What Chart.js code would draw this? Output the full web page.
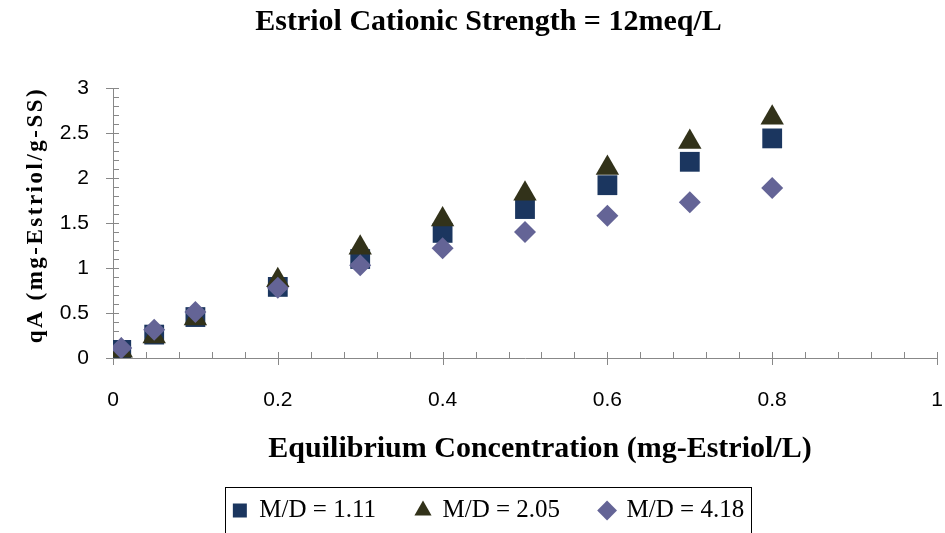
<!DOCTYPE html>
<html>
<head>
<meta charset="utf-8">
<script src="https://cdn.jsdelivr.net/npm/chart.js@4.4.0/dist/chart.umd.min.js"></script>
<style>
  html, body { margin: 0; padding: 0; background: #fff; }
</style>
</head>
<body>
<canvas id="chart" width="945" height="533"></canvas>
<script>
// text
const chartTitle = 'Estriol Cationic Strength = 12meq/L';
const xTitle = 'Equilibrium Concentration (mg-Estriol/L)';
const yTitle = 'qA (mg-Estriol/g-SS)';
const seriesNames = ['M/D = 1.11', 'M/D = 2.05', 'M/D = 4.18'];

// data
const xValues = [0.01, 0.05, 0.1, 0.2, 0.3, 0.4, 0.5, 0.6, 0.7, 0.8];
const md111 = [0.09, 0.26, 0.455, 0.79, 1.10, 1.39, 1.655, 1.92, 2.18, 2.44];
const md205 = [0.08, 0.24, 0.44, 0.865, 1.225, 1.54, 1.825, 2.11, 2.40, 2.67];
const md418 = [0.11, 0.315, 0.51, 0.78, 1.03, 1.22, 1.40, 1.58, 1.73, 1.89];

const xTicks = [0, 0.2, 0.4, 0.6, 0.8, 1];
const yTicks = [0, 0.5, 1, 1.5, 2, 2.5, 3];
const xMinorPerMajor = 5;
const yMinorPerMajor = 5;

const axisColor = '#888888';
const serif = "'Liberation Serif', 'Times New Roman', serif";
const sans = "'Liberation Sans', Arial, sans-serif";

const toPoints = ys => xValues.map((x, i) => ({ x, y: ys[i] }));

// minor + major tick marks, excel style (minor inside, major crossing)
const axisTicks = {
    id: 'axisTicks',
    beforeDatasetsDraw(chart) {
        const { ctx, chartArea: a, scales: { x, y } } = chart;
        ctx.save();
        ctx.strokeStyle = axisColor;
        ctx.lineWidth = 1;
        ctx.beginPath();
        const xStep = (xTicks[1] - xTicks[0]) / xMinorPerMajor;
        const nx = Math.round((xTicks[xTicks.length - 1] - xTicks[0]) / xStep);
        for (let i = 0; i <= nx; i++) {
            const px = Math.round(x.getPixelForValue(xTicks[0] + i * xStep)) + 0.5;
            const major = i % xMinorPerMajor === 0;
            ctx.moveTo(px, a.bottom - 6);
            ctx.lineTo(px, a.bottom + (major ? 7 : 0));
        }
        const yStep = (yTicks[1] - yTicks[0]) / yMinorPerMajor;
        const ny = Math.round((yTicks[yTicks.length - 1] - yTicks[0]) / yStep);
        for (let i = 0; i <= ny; i++) {
            const py = Math.round(y.getPixelForValue(yTicks[0] + i * yStep)) + 0.5;
            const major = i % yMinorPerMajor === 0;
            ctx.moveTo(a.left - (major ? 7 : 0), py);
            ctx.lineTo(a.left + 6, py);
        }
        ctx.stroke();
        ctx.restore();
    }
};

// axis titles + legend frame
const extras = {
    id: 'extras',
    afterDraw(chart) {
        const { ctx } = chart;
        ctx.save();
        ctx.fillStyle = '#000';

        ctx.font = 'bold 30px ' + serif;
        ctx.textAlign = 'center';
        ctx.textBaseline = 'alphabetic';
        ctx.fillText(xTitle, 540, 457);

        ctx.translate(42, 215);
        ctx.rotate(-Math.PI / 2);
        ctx.font = 'bold 23px ' + serif;
        ctx.letterSpacing = '2.5px';
        ctx.fillText(yTitle, 0, 0);
        ctx.restore();

        const boxes = chart.legend.legendHitBoxes;
        if (boxes && boxes.length) {
            const first = boxes[0], last = boxes[boxes.length - 1];
            const left = Math.round(first.left - 8);
            const right = Math.round(last.left + last.width + 7);
            const top = Math.round(first.top + first.height / 2 - 24);
            ctx.save();
            ctx.strokeStyle = '#000';
            ctx.lineWidth = 1;
            ctx.strokeRect(left + 0.5, top + 0.5, right - left, 80);
            ctx.restore();
        }
    }
};

// invisible tick marks push the labels away from the axes
const hiddenGrid = len => ({
    display: true,
    drawOnChartArea: false,
    drawTicks: true,
    tickLength: len,
    tickColor: 'rgba(0,0,0,0)'
});

new Chart(document.getElementById('chart').getContext('2d'), {
    type: 'scatter',
    data: {
        datasets: [{
            label: seriesNames[0],
            data: toPoints(md111),
            pointStyle: 'rect',
            pointRadius: 14,
            pointHoverRadius: 14,
            backgroundColor: '#1b365f',
            borderColor: '#1b365f',
            borderWidth: 0,
            order: 2
        }, {
            label: seriesNames[1],
            data: toPoints(md205),
            pointStyle: 'triangle',
            pointRadius: 13.5,
            pointHoverRadius: 13.5,
            backgroundColor: '#32321a',
            borderColor: '#32321a',
            borderWidth: 0,
            order: 1
        }, {
            label: seriesNames[2],
            data: toPoints(md418),
            pointStyle: 'rectRot',
            pointRadius: 11,
            pointHoverRadius: 11,
            backgroundColor: '#646496',
            borderColor: '#646496',
            borderWidth: 0,
            order: 0
        }]
    },
    options: {
        responsive: false,
        animation: false,
        devicePixelRatio: 1,
        layout: { autoPadding: false, padding: { left: 40, right: 8, top: 0, bottom: 0 } },
        scales: {
            x: {
                type: 'linear',
                min: 0,
                max: 1,
                afterBuildTicks: s => { s.ticks = xTicks.map(v => ({ value: v })); },
                afterFit: s => { s.height = 100; s.paddingLeft = 0; s.paddingRight = 0; },
                grid: hiddenGrid(30),
                border: { display: true, color: axisColor, width: 1 },
                ticks: {
                    padding: 0,
                    color: '#000',
                    font: { family: sans, size: 21 },
                    callback: v => String(v)
                }
            },
            y: {
                type: 'linear',
                min: 0,
                max: 3,
                afterBuildTicks: s => { s.ticks = yTicks.map(v => ({ value: v })); },
                afterFit: s => { s.width = 73; },
                grid: hiddenGrid(24),
                border: { display: true, color: axisColor, width: 1 },
                ticks: {
                    padding: 0,
                    color: '#000',
                    font: { family: sans, size: 21 },
                    callback: v => String(v)
                }
            }
        },
        plugins: {
            title: {
                display: true,
                text: chartTitle,
                color: '#000',
                font: { family: serif, size: 30, weight: 'bold' },
                padding: { top: 4, bottom: 48 }
            },
            legend: {
                position: 'bottom',
                labels: {
                    usePointStyle: true,
                    boxWidth: 14,
                    boxHeight: 14,
                    padding: 40,
                    color: '#000',
                    font: { family: serif, size: 25 },
                    sort: (a, b) => a.datasetIndex - b.datasetIndex
                }
            },
            tooltip: { enabled: false }
        }
    },
    plugins: [axisTicks, extras]
});
</script>
</body>
</html>
